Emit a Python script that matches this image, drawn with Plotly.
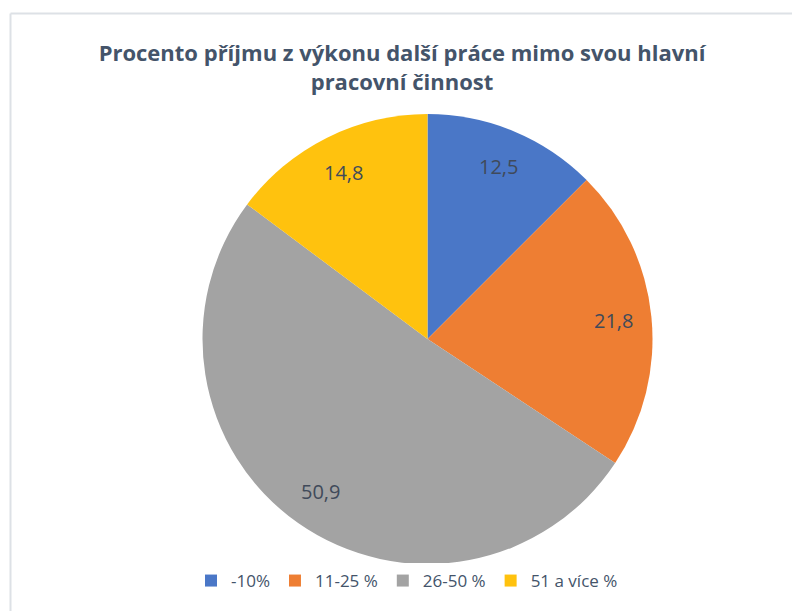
import math
import plotly.graph_objects as go

categories = ["-10%", "11-25 %", "26-50 %", "51 a více %"]
values = [12.5, 21.8, 50.9, 14.8]
value_labels = ["12,5", "21,8", "50,9", "14,8"]
colors = ["#4A77C7", "#EE7E33", "#A3A3A3", "#FFC20E"]

W, H = 792, 611

def px(x):
    return x / W

def py(y):
    return 1 - y / H

cx, cy, R = 427.5, 339, 225
label_frac = 0.83

fig = go.Figure(go.Pie(
    labels=categories,
    values=values,
    textinfo="none",
    marker=dict(colors=colors),
    sort=False,
    direction="clockwise",
    rotation=0,
    domain=dict(x=[px(cx - R), px(cx + R)], y=[py(cy + R), py(cy - R)]),
    showlegend=True,
))

# data labels placed at the middle angle of each slice
annotations = []
total = sum(values)
acc = 0.0
for v, t in zip(values, value_labels):
    mid = (acc + v / 2) / total * 2 * math.pi
    acc += v
    lx = cx + label_frac * R * math.sin(mid)
    ly = cy - label_frac * R * math.cos(mid)
    annotations.append(dict(
        x=px(lx), y=py(ly), xref="paper", yref="paper", text=t, showarrow=False,
        xanchor="center", yanchor="middle",
        font=dict(family="Open Sans", size=20, color="#404A5A"),
    ))

fig.update_layout(
    width=W, height=H,
    margin=dict(l=0, r=0, t=0, b=0),
    paper_bgcolor="white",
    plot_bgcolor="white",
    title=dict(
        text="<b>Procento příjmu z výkonu další práce mimo svou hlavní<br>pracovní činnost</b>",
        x=px(402), xanchor="center", y=py(61), yanchor="middle",
        font=dict(family="Open Sans", size=22, color="#44546A"),
    ),
    legend=dict(
        orientation="h", x=px(407), xanchor="center", y=py(581), yanchor="middle",
        font=dict(family="Open Sans", size=17, color="#44546A"),
        itemwidth=30,
    ),
    annotations=annotations,
    shapes=[
        dict(type="line", xref="paper", yref="paper", x0=px(10.5), x1=1.0, y0=py(13.5), y1=py(13.5),
             line=dict(color="#DDE1E6", width=2)),
        dict(type="line", xref="paper", yref="paper", x0=px(10.5), x1=px(10.5), y0=py(13.5), y1=0,
             line=dict(color="#DDE1E6", width=2)),
    ],
)

fig.write_html(
    "out.html",
    config={"displayModeBar": False},
    post_script="document.body.style.margin='0';document.body.style.overflow='hidden';",
)
